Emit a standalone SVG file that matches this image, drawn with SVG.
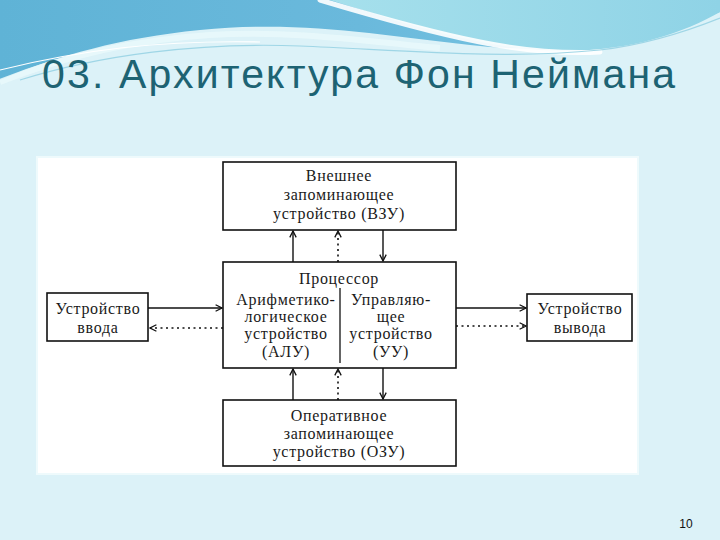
<svg xmlns="http://www.w3.org/2000/svg" width="720" height="540" viewBox="0 0 720 540">
  <defs>
    <linearGradient id="band" x1="0" y1="0" x2="1" y2="0">
      <stop offset="0" stop-color="#5fb3d6"/>
      <stop offset="0.5" stop-color="#6ab9dc"/>
      <stop offset="1" stop-color="#7fcbe4"/>
    </linearGradient>
    <linearGradient id="light" x1="0" y1="0" x2="1" y2="0">
      <stop offset="0" stop-color="#a6e0ec"/>
      <stop offset="1" stop-color="#8fd3e6"/>
    </linearGradient>
    <marker id="ah" viewBox="0 0 10 10" refX="9" refY="5" markerWidth="8" markerHeight="8" markerUnits="userSpaceOnUse" orient="auto">
      <path d="M1,1 L9,5 L1,9" fill="none" stroke="#111" stroke-width="1.6"/>
    </marker>
    <style>
      .box { fill: #ffffff; stroke: #111; stroke-width: 1.6; }
      .t { font-family: "Liberation Serif", "DejaVu Serif", serif; font-size: 16px; fill: #1a1a1a; text-anchor: middle; letter-spacing: 0.7px; }
      .solid { stroke: #111; stroke-width: 1.4; fill: none; marker-end: url(#ah); }
      .dot { stroke: #111; stroke-width: 1.6; fill: none; stroke-dasharray: 2 3.5; marker-end: url(#ah); }
    </style>
  </defs>

  <!-- background -->
  <rect x="0" y="0" width="720" height="540" fill="#dcf2f8"/>
  <path d="M0,0 H720 V12 C640,45 560,55 470,45 C380,35 300,20 200,30 C120,38 60,55 0,80 Z" fill="url(#band)"/>
  <path d="M330,0 C400,22 470,45 540,50 C620,55 680,35 720,12 V0 Z" fill="url(#light)"/>
  <path d="M320,0 C380,18 430,32 480,42 C520,50 560,54 600,52" fill="none" stroke="#ffffff" stroke-width="5" stroke-linecap="round" opacity="0.9"/>
  <path d="M0,82 C60,58 130,40 210,35 C300,30 370,42 440,48" fill="none" stroke="#e8f8fb" stroke-width="6" opacity="0.9"/>
  <path d="M20,80 C100,55 200,42 300,46 C400,50 500,60 600,50 C650,44 690,30 720,18" fill="none" stroke="#9fd6e6" stroke-width="1.2"/>
  <path d="M0,70 C80,50 160,40 260,42" fill="none" stroke="#ffffff" stroke-width="1.2"/>

  <!-- title -->
  <text x="42" y="88" font-family="'Liberation Sans', 'Open Sans', sans-serif" font-size="41" fill="#1d6373" textLength="633" lengthAdjust="spacing">03. Архитектура Фон Неймана</text>

  <!-- white panel -->
  <rect x="37" y="157" width="601" height="317" fill="#ffffff" stroke="#eefafc" stroke-width="2"/>

  <!-- connectors -->
  <g id="connectors">
    <line class="solid" x1="293" y1="262" x2="293" y2="231"/>
    <line class="dot" x1="338" y1="262" x2="338" y2="231"/>
    <line class="solid" x1="383" y1="230" x2="383" y2="261"/>
    <line class="solid" x1="293" y1="400" x2="293" y2="369"/>
    <line class="dot" x1="338" y1="400" x2="338" y2="369"/>
    <line class="solid" x1="383" y1="368" x2="383" y2="399"/>
    <line class="solid" x1="148" y1="308" x2="222" y2="308"/>
    <line class="dot" x1="223" y1="328" x2="150" y2="328"/>
    <line class="solid" x1="456" y1="308" x2="526" y2="308"/>
    <line class="dot" x1="456" y1="326" x2="526" y2="326"/>
  </g>

  <g id="vzu">
    <rect class="box" x="223" y="162" width="233" height="68"/>
    <text class="t" x="339" y="181">Внешнее</text>
    <text class="t" x="339" y="200">запоминающее</text>
    <text class="t" x="339" y="219">устройство (ВЗУ)</text>
  </g>

  <g id="processor">
    <rect class="box" x="223" y="262" width="233" height="106"/>
    <text class="t" x="339" y="284">Процессор</text>
    <line x1="340" y1="288" x2="340" y2="363" stroke="#111" stroke-width="1.3"/>
    <text class="t" x="286" y="305">Арифметико-</text>
    <text class="t" x="286" y="322">логическое</text>
    <text class="t" x="286" y="339">устройство</text>
    <text class="t" x="286" y="357">(АЛУ)</text>
    <text class="t" x="391" y="305">Управляю-</text>
    <text class="t" x="391" y="322">щее</text>
    <text class="t" x="391" y="339">устройство</text>
    <text class="t" x="391" y="357">(УУ)</text>
  </g>

  <g id="ozu">
    <rect class="box" x="223" y="400" width="233" height="66"/>
    <text class="t" x="339" y="421">Оперативное</text>
    <text class="t" x="339" y="439">запоминающее</text>
    <text class="t" x="339" y="457">устройство (ОЗУ)</text>
  </g>

  <g id="input">
    <rect class="box" x="47" y="293" width="101" height="48"/>
    <text class="t" x="98" y="314">Устройство</text>
    <text class="t" x="98" y="333">ввода</text>
  </g>

  <g id="output">
    <rect class="box" x="527" y="294" width="105" height="47"/>
    <text class="t" x="580" y="314">Устройство</text>
    <text class="t" x="580" y="333">вывода</text>
  </g>

  <text x="686" y="528" font-family="'Liberation Sans', Arial, sans-serif" font-size="12" fill="#111" text-anchor="middle">10</text>
</svg>
